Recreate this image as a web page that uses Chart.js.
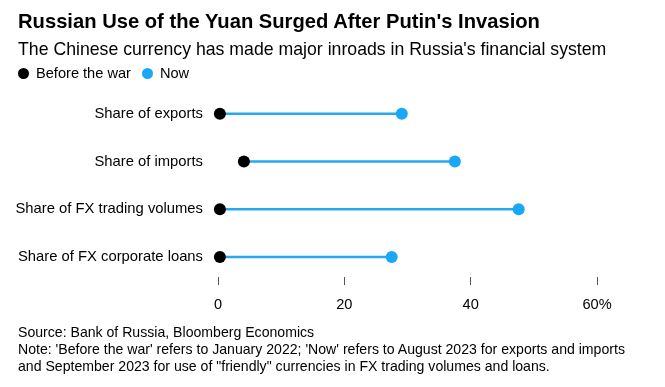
<!DOCTYPE html>
<html>
<head>
<meta charset="utf-8">
<script src="https://cdn.jsdelivr.net/npm/chart.js@4"></script>
<style>
  html, body { margin:0; padding:0; background:#fff; }
  body { width:665px; height:387px; position:relative; overflow:hidden; font-family:"Liberation Sans", Arial, Helvetica, sans-serif; color:#000; }
  #wrap { position:absolute; left:0; top:0; width:665px; height:387px; }
  .t { position:absolute; white-space:nowrap; }
  #title { left:18px; top:10px; font-size:20.2px; font-weight:bold; }
  #sub { left:18px; top:38.5px; font-size:17.7px; }
  #legend { left:18px; top:64.5px; font-size:14.6px; }
  .dot { display:inline-block; width:11px; height:11px; border-radius:50%; vertical-align:-1px; margin-right:7px; }
  #foot { left:18px; top:324px; font-size:14.1px; line-height:17px; }
</style>
</head>
<body>
<div id="wrap"><canvas id="c" width="665" height="387"></canvas></div>
<div class="t" id="title">Russian Use of the Yuan Surged After Putin's Invasion</div>
<div class="t" id="sub">The Chinese currency has made major inroads in Russia's financial system</div>
<div class="t" id="legend"><span class="dot" style="background:#000"></span>Before the war<span style="display:inline-block;width:11px"></span><span class="dot" style="background:#1aa7f5"></span>Now</div>
<div class="t" id="foot">Source: Bank of Russia, Bloomberg Economics<br>Note: 'Before the war' refers to January 2022; 'Now' refers to August 2023 for exports and imports<br>and September 2023 for use of "friendly" currencies in FX trading volumes and loans.</div>
<script>
const categories = ["Share of exports", "Share of imports", "Share of FX trading volumes", "Share of FX corporate loans"];
const beforeWar = [0.3, 4.1, 0.3, 0.3];
const now = [29.1, 37.5, 47.6, 27.5];
const xTicks = [0, 20, 40, 60];

const BLUE = '#1aa7f5';
const LINE = '#27a8ef';

const datasets = [];
categories.forEach((c, i) => {
  datasets.push({
    type: 'scatter',
    data: [{x: beforeWar[i], y: i}, {x: now[i], y: i}],
    showLine: true,
    borderColor: LINE,
    borderWidth: 2.5,
    pointRadius: 0,
    clip: false,
    order: 3
  });
});
datasets.push({
  type: 'scatter', label: 'Before the war',
  data: beforeWar.map((v, i) => ({x: v, y: i})),
  backgroundColor: '#000', borderColor: '#000', pointRadius: 6, pointBorderWidth: 0,
  clip: false, order: 1
});
datasets.push({
  type: 'scatter', label: 'Now',
  data: now.map((v, i) => ({x: v, y: i})),
  backgroundColor: BLUE, borderColor: BLUE, pointRadius: 6, pointBorderWidth: 0,
  clip: false, order: 1
});

new Chart(document.getElementById('c'), {
  type: 'scatter',
  data: { datasets },
  options: {
    responsive: false,
    animation: false,
    devicePixelRatio: 1,
    layout: { padding: { left: 0, right: 68, top: 90, bottom: 0 } },
    plugins: { legend: { display: false }, tooltip: { enabled: false } },
    scales: {
      x: {
        type: 'linear', min: 0, max: 60,
        afterBuildTicks: s => { s.ticks = xTicks.map(v => ({value: v})); },
        afterFit: s => { s.height = 110; },
        border: { display: false },
        grid: { display: true, drawOnChartArea: false, drawTicks: true, tickLength: 8, color: '#555', lineWidth: 1 },
        ticks: {
          padding: 11, color: '#000',
          font: { family: '"Liberation Sans", Arial, sans-serif', size: 14.6 },
          callback: v => v === 60 ? '60%' : String(v),
          maxRotation: 0
        }
      },
      y: {
        type: 'linear', min: -0.5, max: 3.42, reverse: true,
        afterBuildTicks: s => { s.ticks = categories.map((c, i) => ({value: i})); },
        afterFit: s => { s.width = 218; },
        border: { display: false },
        grid: { display: false, drawTicks: false },
        ticks: {
          padding: 15, color: '#000',
          font: { family: '"Liberation Sans", Arial, sans-serif', size: 14.8 },
          callback: v => categories[v] ?? ''
        }
      }
    }
  }
});
</script>
</body>
</html>
